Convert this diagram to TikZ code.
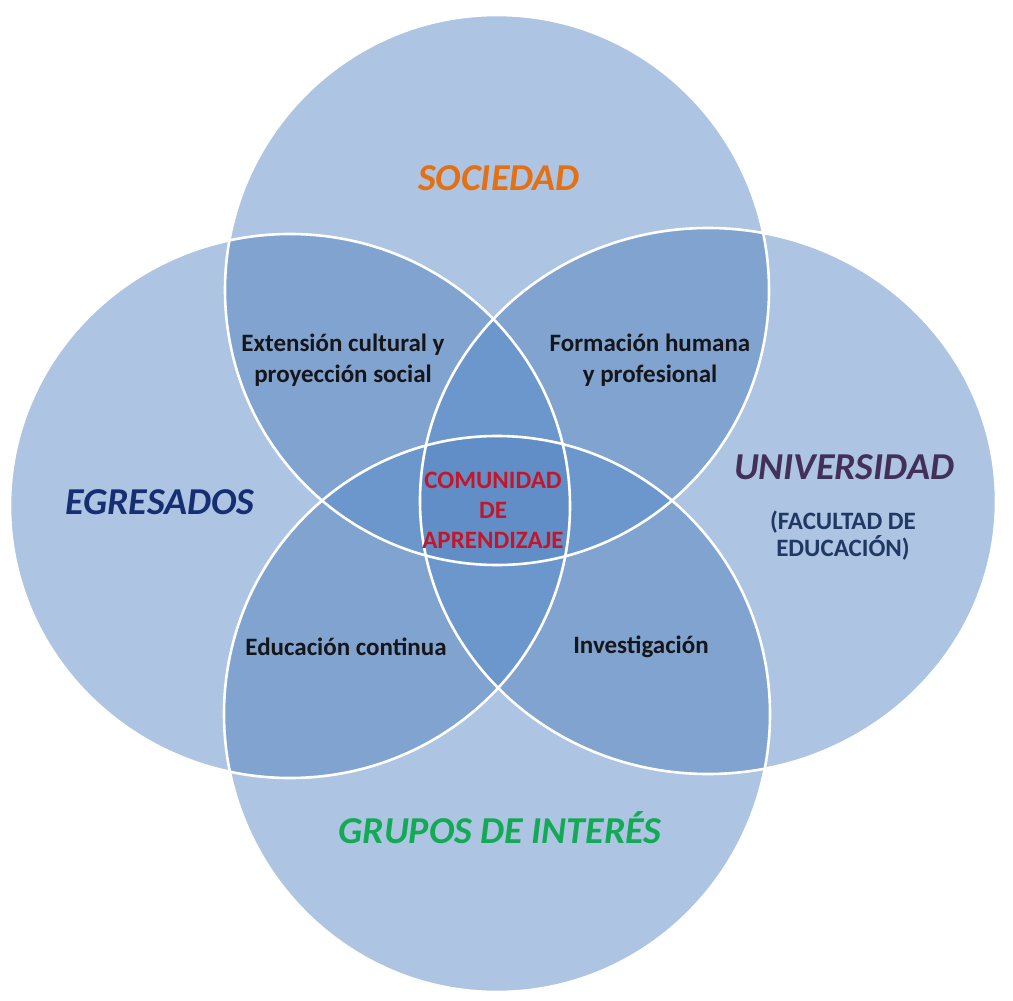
\documentclass[tikz,border=0pt]{standalone}
\usepackage{fontspec}
\setmainfont{Carlito}
\definecolor{cOne}{RGB}{173,196,226}
\definecolor{cTwo}{RGB}{128,163,208}
\definecolor{cThree}{RGB}{108,151,204}
\definecolor{cFour}{RGB}{98,142,199}
\definecolor{cOrange}{RGB}{228,112,20}
\definecolor{cNavy}{RGB}{22,46,114}
\definecolor{cPurple}{RGB}{66,48,88}
\definecolor{cFac}{RGB}{31,56,100}
\definecolor{cGreen}{RGB}{18,170,84}
\definecolor{cRed}{RGB}{196,22,40}
\definecolor{cText}{RGB}{22,22,26}
\tikzset{
  cT/.style={insert path={(497,290) ellipse [x radius=272, y radius=275]}},
  cL/.style={insert path={(290,506) ellipse [x radius=280, y radius=272]}},
  cR/.style={insert path={(708,501) ellipse [x radius=288, y radius=273]}},
  cB/.style={insert path={(497,714) ellipse [x radius=273, y radius=278]}},
  rim/.style={draw=white, line width=2.6pt},
  title/.style={font=\fontsize{38}{40}\selectfont\bfseries\itshape, inner sep=0pt},
  lbl/.style={font=\fontsize{25}{31}\selectfont\bfseries, text=cText, align=center, inner sep=0pt},
}
\begin{document}
\begin{tikzpicture}[x=1pt,y=-1pt]
\useasboundingbox (0,0) rectangle (1013,1001);
% single fills
\fill[cOne, cT]; \fill[cOne, cL]; \fill[cOne, cR]; \fill[cOne, cB];
% pairwise overlaps
\begin{scope}\clip[cT]; \fill[cTwo, cL]; \fill[cTwo, cR]; \fill[cTwo, cB];\end{scope}
\begin{scope}\clip[cL]; \fill[cTwo, cR]; \fill[cTwo, cB];\end{scope}
\begin{scope}\clip[cR]; \fill[cTwo, cB];\end{scope}
% triple overlaps
\begin{scope}\clip[cT]; \clip[cL]; \fill[cThree, cR]; \fill[cThree, cB];\end{scope}
\begin{scope}\clip[cT]; \clip[cR]; \fill[cThree, cB];\end{scope}
\begin{scope}\clip[cL]; \clip[cR]; \fill[cThree, cB];\end{scope}
% quadruple overlap
\begin{scope}\clip[cT]; \clip[cL]; \clip[cR]; \fill[cFour, cB];\end{scope}
% rims
\draw[rim, cT]; \draw[rim, cL]; \draw[rim, cR]; \draw[rim, cB];
% titles
\node[title, text=cOrange] (soc) at (499,178) {SOCIEDAD};
\node[title, text=cNavy] (egr) at (160,502) {EGRESADOS};
\node[title, text=cPurple] (uni) at (844,467) {UNIVERSIDAD};
\node[title, text=cGreen] (gru) at (500,828) {GRUPOS DE INTERÉS};
\node[lbl, text=cFac, font=\fontsize{25}{27}\selectfont\bfseries] (fac) at (843,536) {(FACULTAD DE\\EDUCACIÓN)};
% intersections
\node[lbl] (ext) at (343,360) {Extensión cultural y\\proyección social};
\node[lbl] (for) at (650,360) {Formación humana\\y profesional};
\node[lbl] (edu) at (346,647) {Educación continua};
\node[lbl] (inv) at (641,647) {Investigación};
\node[lbl, text=cRed, font=\fontsize{25}{30}\selectfont\bfseries] (com) at (493,510) {COMUNIDAD\\DE\\APRENDIZAJE};
\end{tikzpicture}
\end{document}
